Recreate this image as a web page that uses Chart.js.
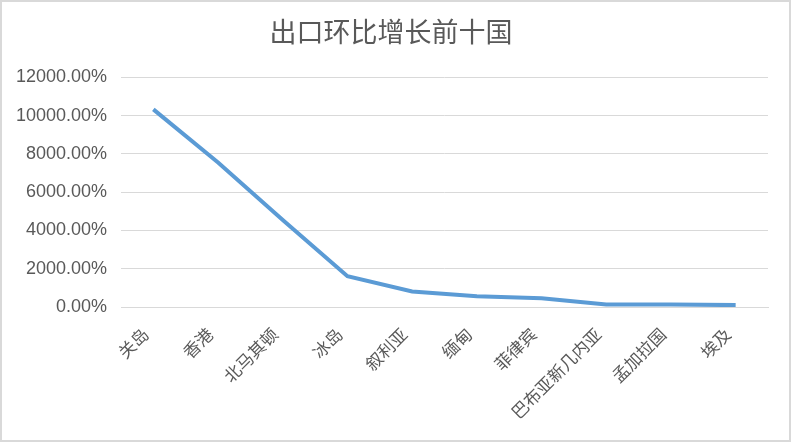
<!DOCTYPE html>
<html>
<head>
<meta charset="utf-8">
<script src="https://cdn.jsdelivr.net/npm/chart.js@4"></script>
<style>
  html, body { margin: 0; padding: 0; background: #fff; }
  #wrap { width: 791px; height: 442px; }
</style>
</head>
<body>
<div id="wrap"><canvas id="chart" width="791" height="442"></canvas></div>
<script>
const chartTitle = '出口环比增长前十国';
const countries = ['关岛', '香港', '北马其顿', '冰岛', '叙利亚', '缅甸', '菲律宾', '巴布亚新几内亚', '孟加拉国', '埃及'];
// month-on-month export growth, in percent
const growthPct = [10330, 7550, 4550, 1610, 810, 560, 455, 135, 125, 100];
const yTicks = [0, 2000, 4000, 6000, 8000, 10000, 12000];

// light grey frame around the whole picture
const framePlugin = {
    id: 'frame',
    beforeDraw(chart) {
        const ctx = chart.ctx;
        ctx.save();
        ctx.fillStyle = '#fff';
        ctx.fillRect(0, 0, chart.width, chart.height);
        ctx.strokeStyle = '#d9d9d9';
        ctx.lineWidth = 2;
        ctx.strokeRect(1, 1, chart.width - 2, chart.height - 2);
        ctx.restore();
    }
};

const textColor = '#595959';

new Chart(document.getElementById('chart').getContext('2d'), {
    type: 'line',
    data: {
        labels: countries,
        datasets: [{
            label: chartTitle,
            data: growthPct,
            borderColor: '#5b9bd5',
            borderWidth: 4,
            pointRadius: 0,
            tension: 0,
            fill: false
        }]
    },
    options: {
        responsive: false,
        animation: false,
        layout: { padding: { left: 14, right: 23, top: 0, bottom: 0 } },
        plugins: {
            legend: { display: false },
            tooltip: { enabled: false },
            title: {
                display: true,
                text: chartTitle,
                color: textColor,
                font: { family: '"Noto Sans CJK SC", sans-serif', size: 27, weight: 'normal' },
                padding: { top: 16, bottom: 29 }
            }
        },
        scales: {
            x: {
                offset: true,
                grid: { display: false, drawTicks: false },
                border: { display: true, color: '#d9d9d9', width: 1 },
                ticks: {
                    color: textColor,
                    autoSkip: false,
                    minRotation: 45,
                    maxRotation: 45,
                    padding: 17,
                    labelOffset: -8,
                    font: { family: '"Noto Sans CJK SC", sans-serif', size: 17 }
                },
                afterFit(scale) { scale.height = 135; }
            },
            y: {
                min: 0,
                max: 12000,
                afterBuildTicks(scale) { scale.ticks = yTicks.map(v => ({ value: v })); },
                grid: { color: '#d9d9d9', lineWidth: 1, drawTicks: false },
                border: { display: false },
                ticks: {
                    color: textColor,
                    padding: 14,
                    font: { family: '"Liberation Sans", Arial, sans-serif', size: 18 },
                    callback: v => v.toFixed(2) + '%'
                },
                afterFit(scale) { scale.width = 107; }
            }
        }
    },
    plugins: [framePlugin]
});
</script>
</body>
</html>
